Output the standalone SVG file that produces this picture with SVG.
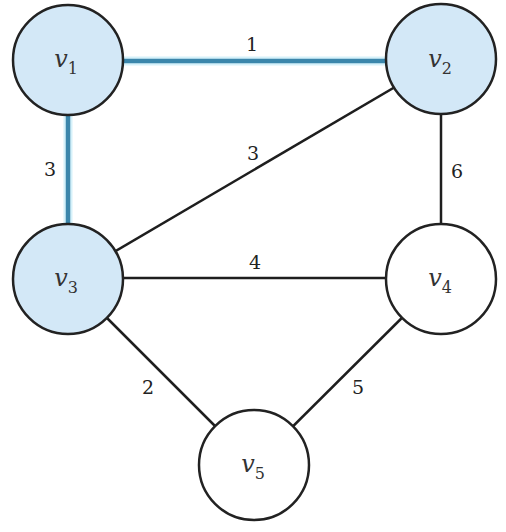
<svg xmlns="http://www.w3.org/2000/svg" width="506" height="532" viewBox="0 0 506 532">
<style>
.edge{stroke:#1e1e1e;stroke-width:2.5;fill:none}
.mst-halo{stroke:#d6f1fa;stroke-width:9;fill:none}
.mst{stroke:#3b86ab;stroke-width:4.5;fill:none}
.node{stroke:#222;stroke-width:2.5}
.sel{fill:#d3e8f7}
.uns{fill:#ffffff}
.lbl{font-family:'DejaVu Serif',serif;font-size:19px;fill:#222;text-anchor:middle}
.nl{font-family:'DejaVu Serif',serif;font-size:24px;font-style:italic;fill:#333;text-anchor:middle}
.sub{font-size:16px;font-style:normal}
</style>
<rect width="506" height="532" fill="#ffffff"/>
<g id="connectors">
<line class="mst-halo" x1="68" y1="61" x2="441" y2="61"/>
<line class="mst-halo" x1="68" y1="60" x2="68" y2="279"/>
<line class="mst" x1="68" y1="61" x2="441" y2="61"/>
<line class="mst" x1="68" y1="60" x2="68" y2="279"/>
<line class="edge" x1="441" y1="60" x2="68" y2="279"/>
<line class="edge" x1="441" y1="60" x2="441" y2="279"/>
<line class="edge" x1="68" y1="278" x2="441" y2="278"/>
<line class="edge" x1="68" y1="279" x2="254" y2="465"/>
<line class="edge" x1="441" y1="279" x2="254" y2="465"/>
<text class="lbl" x="252" y="51">1</text>
<text class="lbl" x="50" y="176">3</text>
<text class="lbl" x="253" y="160">3</text>
<text class="lbl" x="457" y="178">6</text>
<text class="lbl" x="255" y="269">4</text>
<text class="lbl" x="148" y="394">2</text>
<text class="lbl" x="358" y="394">5</text>
</g>
<g id="v1"><circle class="node sel" cx="68" cy="60" r="55"/><text class="nl" x="66" y="67">v<tspan class="sub" dy="7">1</tspan></text></g>
<g id="v2"><circle class="node sel" cx="441" cy="59" r="55"/><text class="nl" x="440" y="67">v<tspan class="sub" dy="7">2</tspan></text></g>
<g id="v3"><circle class="node sel" cx="68" cy="279" r="55"/><text class="nl" x="66" y="286">v<tspan class="sub" dy="7">3</tspan></text></g>
<g id="v4"><circle class="node uns" cx="441" cy="279" r="55"/><text class="nl" x="440" y="286">v<tspan class="sub" dy="7">4</tspan></text></g>
<g id="v5"><circle class="node uns" cx="254" cy="465" r="55"/><text class="nl" x="253" y="472">v<tspan class="sub" dy="7">5</tspan></text></g>
</svg>
